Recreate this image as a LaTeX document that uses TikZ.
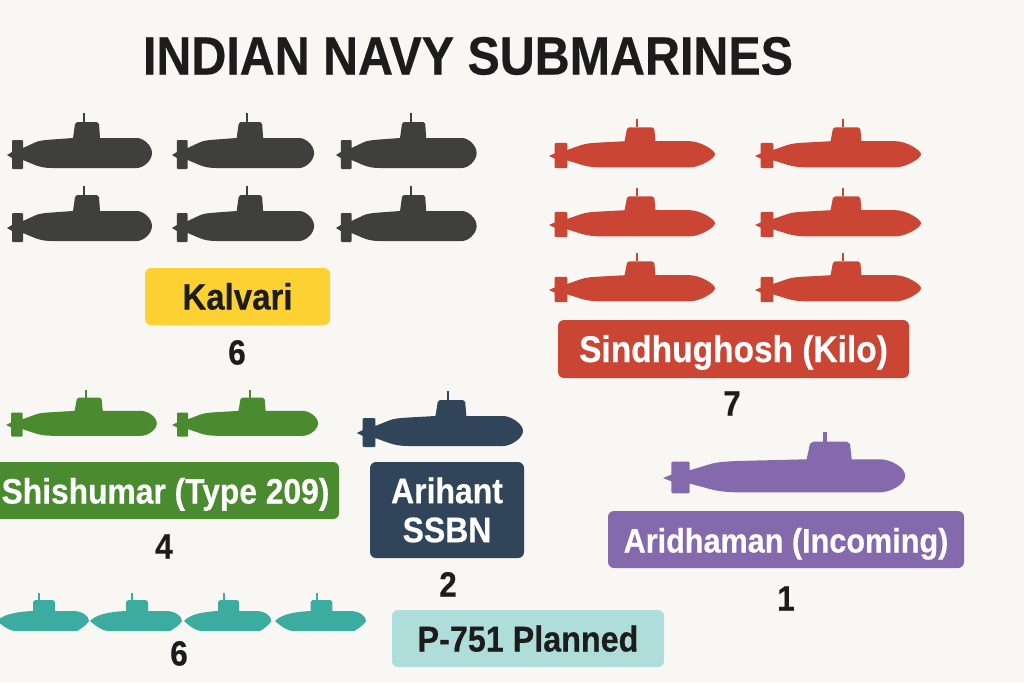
\documentclass[tikz,border=0pt]{standalone}
\usepackage{fontspec}
\setmainfont[FakeStretch=0.9,BoldFeatures={FakeBold=0.4}]{Liberation Sans}
\definecolor{paper}{HTML}{F8F7F3}
\definecolor{inkblack}{HTML}{1C1C1C}
\definecolor{kalvarigray}{HTML}{3F3F3E}
\definecolor{kalvariyellow}{HTML}{FDD131}
\definecolor{kilored}{HTML}{CB4534}
\definecolor{typegreen}{HTML}{4A8B2F}
\definecolor{arihantblue}{HTML}{30445A}
\definecolor{incomingpurple}{HTML}{8569AD}
\definecolor{plannedteal}{HTML}{3CABA0}
\definecolor{plannedpale}{HTML}{AEDDDA}
\newcommand{\tagfont}[1]{\bfseries\fontsize{#1}{39}\selectfont}
\tikzset{
	tagbox/.style={rounded corners=6pt,inner sep=0pt,align=center,text=white,text height=26pt,text depth=0pt},
	countlabel/.style={inner sep=0pt,text=inkblack,text height=25pt,text depth=0pt,font=\tagfont{35}},
	% #1 moves the sail along the hull, #2 is the bluntness of the nose
	pics/subboat/.style 2 args={code={
		\fill[pic actions] (0,0) -- (5,-3) -- (5,-14) -- (6,-15) -- (15,-15) -- (16,-14) -- (16,-7)
			-- (28,-12.5) .. controls (32,-14.5) and (38,-15) .. (45,-15.5) -- ({66+#1},-17) -- ({68+#1},-31) -- ({70+#1},-33)
			-- ({90+#1},-33) -- ({92+#1},-31) -- ({93+#1},-17) -- ({112+2.25*#2},-17)
			.. controls ({124+1.5*#2},-17) and (145,{-2-#2}) .. (145,-2)
			.. controls (145,{-2+#2}) and ({124+1.5*#2},13) .. ({112+2.25*#2},13) -- (45,13)
			.. controls (38,13) and (33,12) .. (28,10) -- (16,5) -- (16,13) -- (15,14) -- (6,14) -- (5,13) -- (5,3) -- cycle;
		\fill[pic actions] ({76+#1},-33) rectangle ({78+#1},-42);
	}},
	pics/lensboat/.style={code={
		\fill[pic actions] (0,0) .. controls (5,-5) and (14,-9) .. (36,-10) -- (36,-19) -- (38,-21) -- (56,-21)
			-- (58,-19) -- (58,-10) -- (76,-10) .. controls (85,-10) and (92,-5) .. (92,0)
			.. controls (90,3) and (87,6) .. (80,10) -- (18,10) .. controls (10,9) and (5,4) .. (0,0) -- cycle;
		\fill[pic actions] (41,-21) rectangle (43,-28);
	}},
}

\begin{document}
\begin{tikzpicture}[x=1pt,y=-1pt]
	\fill[paper] (0,0) rectangle (1024,683);
	\clip (0,0) rectangle (1024,683);

	\node[inner sep=0pt,text=inkblack,text height=38pt,text depth=0pt,font=\tagfont{53.8}] (title) at (468,55.5) {INDIAN NAVY SUBMARINES};

	% Kalvari
	\foreach \px/\wd in {7/1,172/.98,336/.97}
		\foreach \py in {155,228}
			\pic[fill=kalvarigray,xscale=\wd] at (\px,\py) {subboat={0}{8}};
	\node[tagbox,fill=kalvariyellow,text=inkblack,minimum width=185pt,minimum height=57pt,font=\tagfont{36.7}] (kalvari) at (237.5,296.5) {Kalvari};
	\node[countlabel] (kalvaricount) at (237,352) {6};

	% Sindhughosh
	\foreach \px in {549,755}
		\foreach \py in {156,225,290}
			\pic[fill=kilored,xscale=1.145,yscale=.87] at (\px,\py) {subboat={0}{5}};
	\node[tagbox,fill=kilored,minimum width=351pt,minimum height=58pt,font=\tagfont{37.2}] (kilo) at (733.5,349) {Sindhughosh (Kilo)};
	\node[countlabel] (kilocount) at (732,403) {7};

	% Shishumar
	\pic[fill=typegreen,xscale=1.04,yscale=.83] at (6,425) {subboat={0}{8}};
	\pic[fill=typegreen,xscale=1.007,yscale=.83] at (172,425) {subboat={0}{8}};
	\node[tagbox,fill=typegreen,minimum width=347pt,minimum height=57pt,font=\tagfont{35.3}] (shishumar) at (165.5,490.5) {Shishumar (Type 209)};
	\node[countlabel] (shishumarcount) at (164,546) {4};

	% Arihant
	\pic[fill=arihantblue,xscale=1.145] at (357,433) {subboat={2.5}{7}};
	\node[tagbox,fill=arihantblue,minimum width=154pt,minimum height=96pt,text height=,text depth=,font=\tagfont{35.5}] (arihant) at (447,510) {Arihant\\SSBN};
	\node[countlabel] (arihantcount) at (448,584) {2};

	% Aridhaman
	\pic[fill=incomingpurple,xscale=1.67,yscale=1.1] at (663,478) {subboat={20}{8}};
	\node[tagbox,fill=incomingpurple,minimum width=356pt,minimum height=57pt,font=\tagfont{34}] (aridhaman) at (786,539.5) {Aridhaman (Incoming)};
	\node[countlabel] (aridhamancount) at (786,598) {1};

	% P-751
	\foreach \px/\wd in {-3/1,90/1,184/.95,275/.99}
		\pic[fill=plannedteal,xscale=\wd] at (\px,621) {lensboat};
	\node[countlabel] (plannedcount) at (179,653) {6};
	\node[tagbox,fill=plannedpale,text=inkblack,minimum width=272pt,minimum height=57pt,font=\tagfont{35.9}] (planned) at (528,638.5) {P-751 Planned};
\end{tikzpicture}
\end{document}
